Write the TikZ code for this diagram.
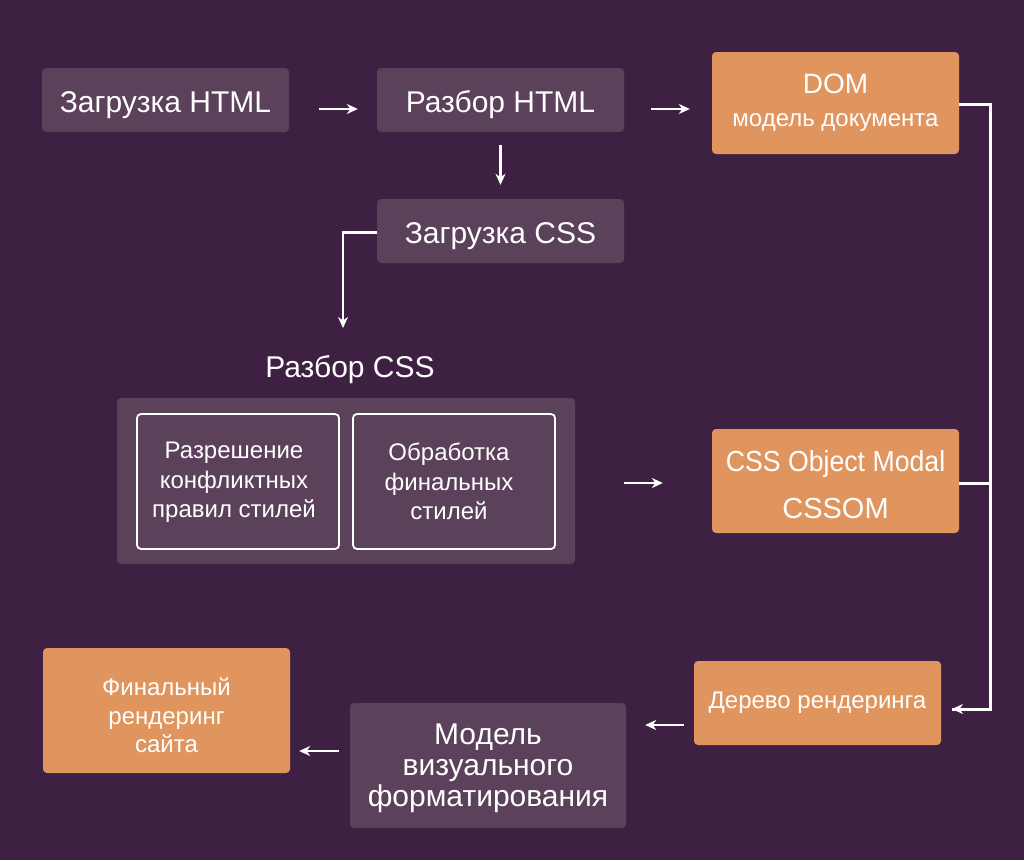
\documentclass[tikz,border=0pt]{standalone}
\usepackage{fontspec}
\usepackage{graphicx}
\setmainfont{Liberation Sans}
\usetikzlibrary{arrows.meta}
\definecolor{bgc}{RGB}{62,33,66}
\definecolor{boxc}{RGB}{92,65,90}
\definecolor{orc}{RGB}{224,148,94}
\tikzset{
  base/.style={rounded corners=4pt, text=white, align=center, inner sep=0pt},
  pbox/.style={base, fill=boxc},
  obox/.style={base, fill=orc},
  ibox/.style={base, draw=white, line width=1.8pt},
  txt/.style={text=white, align=center, inner sep=0pt},
  tip/.style={-{Stealth[length=11pt,width=10pt,inset=3.5pt]}},
  arr/.style={draw=white, line width=2.1pt, tip},
  conn/.style={draw=white, line width=3pt},
  fbig/.style={font=\fontsize{30}{33}\selectfont},
  fsmall/.style={font=\fontsize{24}{29.5}\selectfont},
  one/.style={text height=24pt, text depth=0pt},
}
\begin{document}
\begin{tikzpicture}[x=1pt,y=-1pt]
\fill[bgc] (0,0) rectangle (1024,860);
\useasboundingbox (0,0) rectangle (1024,860);

\node[pbox, fbig, one, minimum width=247pt, minimum height=64pt] (lh) at (165.5,100) {Загрузка HTML};
\node[pbox, fbig, one, minimum width=247pt, minimum height=64pt] (ph) at (500.5,100) {Разбор HTML};
\node[obox, minimum width=247pt, minimum height=102pt, font=\fontsize{24}{33}\selectfont] (dom) at (835.5,103) {{\fontsize{28}{33}\selectfont DOM}\\модель документа};
\node[pbox, fbig, one, minimum width=247pt, minimum height=64pt] (lc) at (500.5,231) {Загрузка CSS};

\node[txt, fbig, one] (pcss) at (350,365) {Разбор CSS};
\node[pbox, minimum width=458pt, minimum height=166pt] (cont) at (346,481) {};
\node[ibox, minimum width=202pt, minimum height=135pt] (in1) at (238,481.5) {};
\node[ibox, minimum width=202pt, minimum height=135pt] (in2) at (454,481.5) {};
\node[txt, fsmall] (in1t) at ([xshift=-4pt,yshift=-1pt]in1.center) {Разрешение\\конфликтных\\правил стилей};
\node[txt, fsmall] (in2t) at ([xshift=-5pt]in2.center) {Обработка\\финальных\\стилей};

\node[obox, minimum width=247pt, minimum height=104pt] (cssom) at (835.5,481) {};
\node[txt, font=\fontsize{29}{47}\selectfont] (cssomt) at ([yshift=-4pt]cssom.center) {\scalebox{0.92}[1]{CSS Object Modal}\\CSSOM};
\node[obox, fsmall, minimum width=247pt, minimum height=84pt] (tree) at (817.5,703) {Дерево рендеринга};
\node[pbox, minimum width=276pt, minimum height=125pt] (vis) at (488,765.5) {};
\node[txt, font=\fontsize{30}{31}\selectfont] (vist) at ([yshift=-3pt]vis.center) {Модель\\визуального\\форматирования};
\node[obox, minimum width=247pt, minimum height=125pt] (fin) at (166.5,710.5) {};
\node[txt, font=\fontsize{24}{28.5}\selectfont] (fint) at ([yshift=-5pt]fin.center) {Финальный\\рендеринг\\сайта};

\coordinate (pcssin) at (343,328);
\coordinate (treein) at (952,709);

\draw[arr] ([xshift=30pt,yshift=-9pt]lh.east) -- ([xshift=-19pt,yshift=-9pt]ph.west);
\draw[arr] ([xshift=27pt,yshift=-9pt]ph.east) -- ([xshift=-22pt,yshift=-6pt]dom.west);
\draw[arr] ([yshift=-13pt]ph.south) -- ([yshift=14pt]lc.north);
\draw[arr, line width=2.5pt] ([yshift=-1.5pt]lc.west) -| (pcssin);
\draw[arr] ([xshift=49pt,yshift=-2pt]cont.east) -- ([xshift=-49pt,yshift=-2pt]cssom.west);
\draw[conn] (dom.east |- 0,104) -- (990,104) |- (treein);
\draw[arr, line width=2.5pt] (990,709) -- (treein);
\draw[conn] (cssom.east |- 0,483) -- (990,483);
\draw[arr] ([xshift=-10pt,yshift=-22pt]tree.west) -- ([xshift=19pt,yshift=40.5pt]vis.east);
\draw[arr] ([xshift=-11pt,yshift=14.5pt]vis.west) -- ([xshift=9pt,yshift=-40.5pt]fin.east);
\end{tikzpicture}
\end{document}
